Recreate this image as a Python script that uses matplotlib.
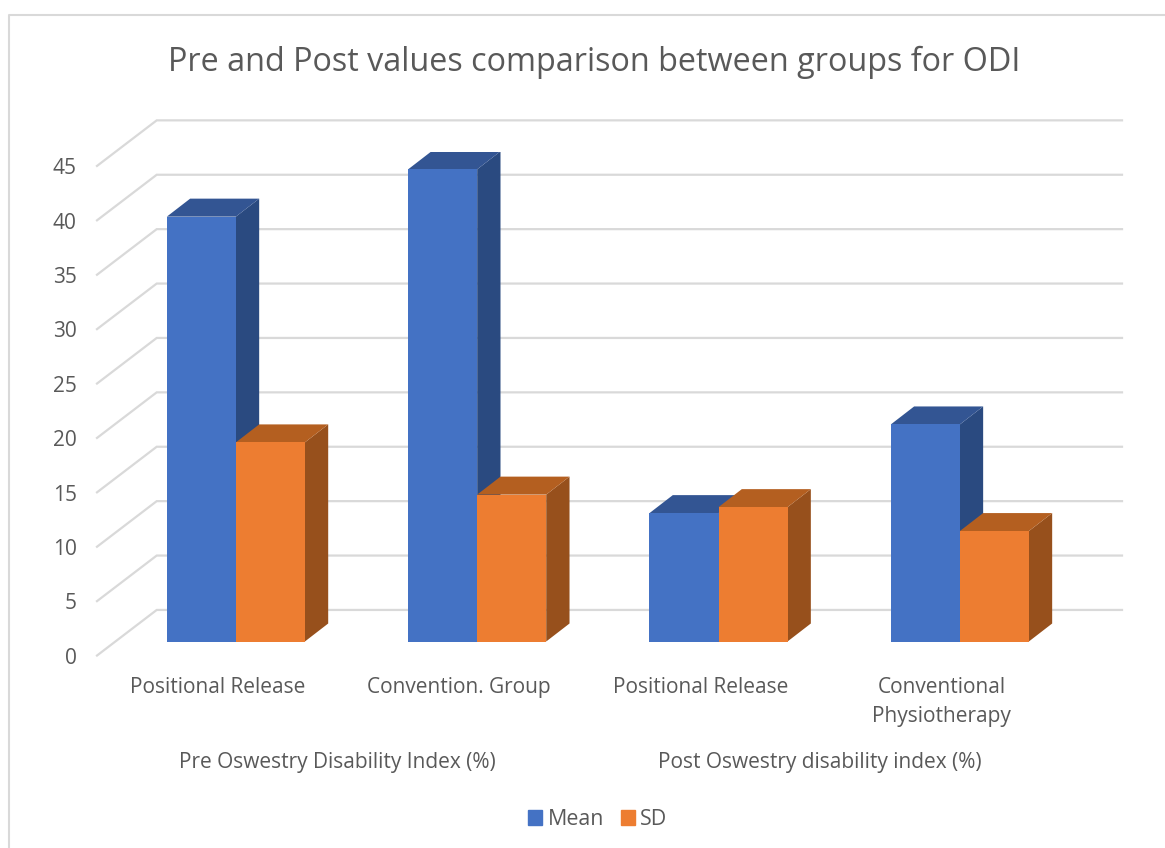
#!/usr/bin/env python3
"""Pre and post ODI comparison drawn as a pseudo-3D clustered column chart."""

import matplotlib
matplotlib.use('Agg')
import matplotlib.pyplot as plt
import numpy as np
from matplotlib.lines import Line2D
from matplotlib.patches import Patch, Polygon

CATEGORIES = ['Positional Release', 'Convention. Group', 'Positional Release', 'Conventional\nPhysiotherapy']
GROUPS = ['Pre Oswestry Disability Index (%)', 'Post Oswestry disability index (%)']
MEAN = [39.05, 43.4, 11.8, 19.95]
SD = [18.3, 13.5, 12.35, 10.15]
Y_TICKS = [0, 5, 10, 15, 20, 25, 30, 35, 40, 45]

W, H = 1165, 848
TEXT = '#595959'
GRID = '#d9d9d9'
# depth of a column, in category and value units
DX, DY = 0.0966, 1.654
BAR_W = 0.286

plt.rcParams['font.family'] = ['Open Sans', 'DejaVu Sans']

fig = plt.figure(figsize=(W / 100, H / 100), dpi=100)
# frame of the chart, only top and left show up
fig.add_artist(Line2D([9 / W, 9 / W, 1], [0, 1 - 15 / H, 1 - 15 / H], color=GRID, lw=1.5))

# axes is the plane of the column fronts
ax = fig.add_axes([115.2 / W, 1 - 641.5 / H, 965.3 / W, 489.6 / H])
ax.set_xlim(-0.5, 3.5)
ax.set_ylim(0, 45)
ax.axis('off')

for v in Y_TICKS:
    ax.plot([-0.5754, -0.328, 3.672], [v - 1.29, v + 2.9, v + 2.9], color=GRID, lw=1.6,
            clip_on=False, zorder=1, solid_joinstyle='miter')
    ax.text(-0.659, v - 1.55, str(v), ha='right', va='center', fontsize=15, color=TEXT)


def column(x, val, front, top, side):
    left, right = x - BAR_W / 2, x + BAR_W / 2
    ax.add_patch(Polygon([(right, 0), (right + DX, DY), (right + DX, val + DY), (right, val)],
                         fc=side, ec='none', zorder=2))
    ax.add_patch(Polygon([(left, val), (left + DX, val + DY), (right + DX, val + DY), (right, val)],
                         fc=top, ec='none', zorder=2))
    ax.bar(x, val, width=BAR_W, color=front, zorder=2)


pos = np.arange(len(CATEGORIES))
for i in pos:
    column(i - BAR_W / 2, MEAN[i], '#4472c4', '#335593', '#2a4a80')
    column(i + BAR_W / 2, SD[i], '#ed7d31', '#b45f20', '#97501c')

    parts = CATEGORIES[i].split('\n')
    for j, part in enumerate(parts):
        ax.text(i - 0.075, -4.22 - j * 2.67, part, ha='center', va='center', fontsize=15, color=TEXT)

for k, label in enumerate(GROUPS):
    ax.text(0.42 + 2 * k, -11.1, label, ha='center', va='center', fontsize=15, color=TEXT)

fig.legend(handles=[Patch(color='#4472c4', label='Mean'), Patch(color='#ed7d31', label='SD')],
           loc='center', bbox_to_anchor=(598 / W, 1 - 819.5 / H), ncol=2, frameon=False,
           fontsize=15.4, labelcolor=TEXT, handlelength=0.65, handleheight=0.65,
           handletextpad=0.25, columnspacing=0.8)

fig.text(594.5 / W, 1 - 62 / H, 'Pre and Post values comparison between groups for ODI',
         ha='center', va='center', fontsize=23.3, color=TEXT)

fig.savefig('out.png', dpi=100)
